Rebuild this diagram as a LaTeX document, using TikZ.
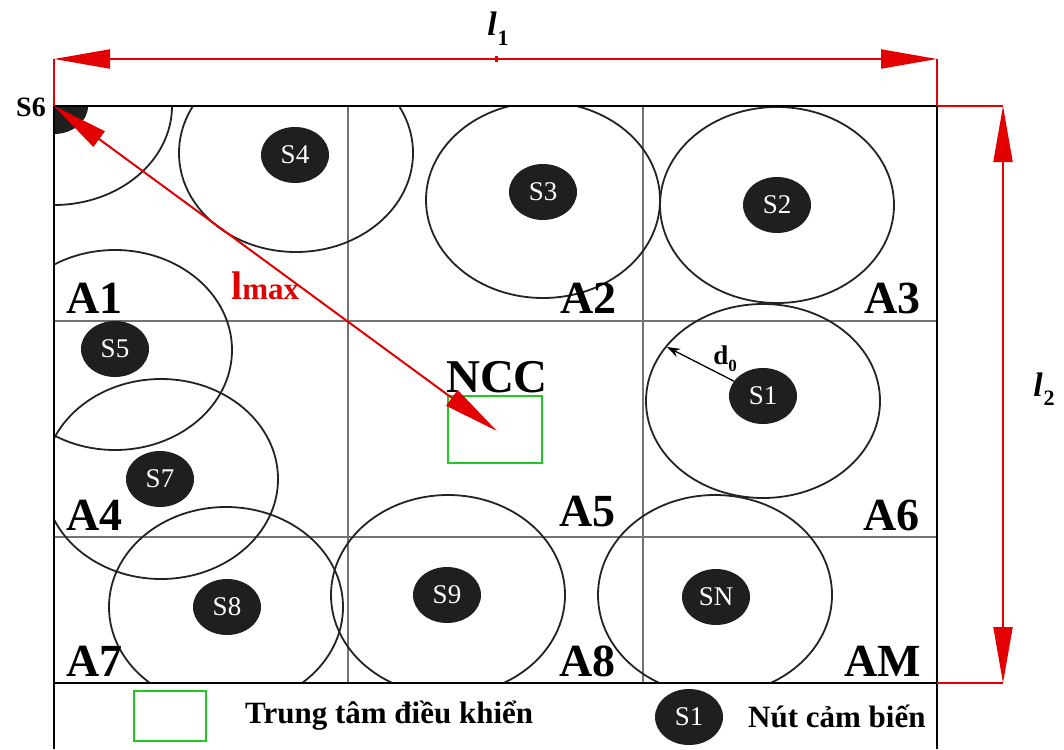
\documentclass[tikz,border=0pt]{standalone}
\usepackage{fontspec}
\setmainfont{Liberation Serif}
\usetikzlibrary{shapes.geometric,arrows.meta}
\definecolor{arrred}{RGB}{226,0,0}
\definecolor{boxgreen}{RGB}{34,200,34}
\definecolor{gridgray}{RGB}{115,115,115}
\definecolor{circgray}{RGB}{35,35,35}
\newcommand{\dimlab}[1]{{\bfseries\itshape l}\kern1pt\raisebox{-0.28em}{\fontsize{22}{22}\selectfont\bfseries #1}}
\begin{document}
\begin{tikzpicture}[x=1pt,y=-1pt,
  sensor/.style={ellipse, fill=black!88, minimum width=68pt, minimum height=56pt, inner sep=0pt, text=white, font=\fontsize{27}{27}\selectfont},
  cover/.style={draw=circgray, line width=1.8pt},
  region/.style={font=\fontsize{46}{46}\selectfont\bfseries, inner sep=0pt},
  gridline/.style={draw=gridgray, line width=2pt},
  boxline/.style={draw=black, line width=2.6pt},
  redline/.style={draw=arrred, line width=2pt},
  bigtips/.style={{Triangle[length=56pt,width=19pt]}-{Triangle[length=56pt,width=19pt]}},
  greenbox/.style={draw=boxgreen, line width=2.5pt, inner sep=0pt},
  legtext/.style={font=\fontsize{31}{31}\selectfont\bfseries, inner sep=0pt},
  dimlabel/.style={font=\fontsize{34}{34}\selectfont, inner sep=0pt}
]
\useasboundingbox (0,0) rectangle (1064,749);

% corner coordinates
\coordinate (bTL) at (54,106);
\coordinate (bTR) at (937,106);
\coordinate (bBL) at (54,683);
\coordinate (bBR) at (937,683);

% grid lines
\draw[gridline] (348,106) -- (348,683);
\draw[gridline] (643,106) -- (643,683);
\draw[gridline] (54,321) -- (937,321);
\draw[gridline] (54,537) -- (937,537);

% coverage circles and sensors (clipped to the field)
\begin{scope}
  \clip (54,106) rectangle (937,683);
  \draw[cover] (54,106) ellipse [x radius=118, y radius=99];
  \draw[cover] (296,153) ellipse [x radius=117, y radius=99];
  \draw[cover] (543,200) ellipse [x radius=117, y radius=98];
  \draw[cover] (777,205) ellipse [x radius=117, y radius=98];
  \draw[cover] (115,350) ellipse [x radius=117, y radius=100];
  \draw[cover] (763,401) ellipse [x radius=117, y radius=97];
  \draw[cover] (161,479) ellipse [x radius=117, y radius=100];
  \draw[cover] (226,607) ellipse [x radius=117, y radius=100];
  \draw[cover] (448,595) ellipse [x radius=117, y radius=100];
  \draw[cover] (715,595) ellipse [x radius=117, y radius=100];
  \node[sensor] (s6) at (54,106) {};
\end{scope}

\node[sensor] (s4) at (295,155) {S4};
\node[sensor] (s3) at (543,192) {S3};
\node[sensor] (s2) at (777,205) {S2};
\node[sensor] (s5) at (115,349) {S5};
\node[sensor] (s1) at (763,396) {S1};
\node[sensor] (s7) at (160,479) {S7};
\node[sensor] (s8) at (227,607) {S8};
\node[sensor] (s9) at (447,595) {S9};
\node[sensor] (sn) at (716,597) {SN};

% outer box
\draw[boxline] (54,749) -- (bTL) -- (bTR) -- (937,749);
\draw[boxline] (bBL) -- (bBR);

% region labels
\node[region, anchor=base west] (a1) at (66,313) {A1};
\node[region, anchor=base east] (a2) at (617,313) {A2};
\node[region, anchor=base east] (a3) at (921,313) {A3};
\node[region, anchor=base west] (a4) at (66,530) {A4};
\node[region, anchor=base east] (a5) at (616,526) {A5};
\node[region, anchor=base east] (a6) at (920,530) {A6};
\node[region, anchor=base west] (a7) at (66,676) {A7};
\node[region, anchor=base east] (a8) at (616,676) {A8};
\node[region, anchor=base east] (am) at (921,676) {AM};

% control center
\node[greenbox, minimum width=94pt, minimum height=67pt] (ncc) at (495,429.5) {};
\node[font=\fontsize{47}{47}\selectfont\bfseries, anchor=base, inner sep=0pt] (ncclabel) at (497,392) {NCC};
\coordinate (nccpt) at (497,431);

% S6 label
\node[font=\fontsize{28}{28}\selectfont\bfseries, anchor=base east, inner sep=0pt] (s6label) at (46,117) {S6};

% l1 dimension
\coordinate (t1) at (54,59);
\coordinate (t2) at (937,59);
\draw[redline] (bTL) -- (t1);
\draw[redline] (bTR) -- (t2);
\draw[redline, bigtips] (t1) -- (t2);
\coordinate (tick1) at (496,56);
\coordinate (tick2) at (496,62);
\draw[arrred, line width=3pt] (tick1) -- (tick2);
\node[dimlabel, anchor=base] (l1label) at (498,36) {\dimlab{1}};

% l2 dimension
\coordinate (r1) at (1003,106);
\coordinate (r2) at (1003,683);
\draw[redline] (bTR) -- (r1);
\draw[redline] (bBR) -- (r2);
\draw[redline, bigtips] (r1) -- (r2);
\node[dimlabel, anchor=base] (l2label) at (1044,396) {\dimlab{2}};

% lmax
\draw[redline, bigtips] (s6.center) -- (nccpt);
\node[anchor=base west, inner sep=0pt, text=arrred] (lmax) at (231,299)
  {\bfseries\fontsize{40}{40}\selectfont l\fontsize{31}{31}\selectfont max};

% d0
\coordinate (d0end) at (667,347);
\draw[line width=1.3pt, -{Stealth[length=13pt,width=9pt]}] (s1) -- (d0end);
\node[font=\fontsize{27}{27}\selectfont\bfseries, inner sep=0pt] (d0) at (725,359)
  {d\raisebox{-0.25em}{\fontsize{17}{17}\selectfont 0}};

% legend
\node[greenbox, minimum width=72pt, minimum height=50pt] (legncc) at (170,716) {};
\node[legtext, anchor=base west] (legnccl) at (245,723) {Trung tâm điều khiển};
\node[sensor] (legs1) at (689,717) {S1};
\node[legtext, anchor=base west] (legs1l) at (748,727) {Nút cảm biến};
\end{tikzpicture}
\end{document}
